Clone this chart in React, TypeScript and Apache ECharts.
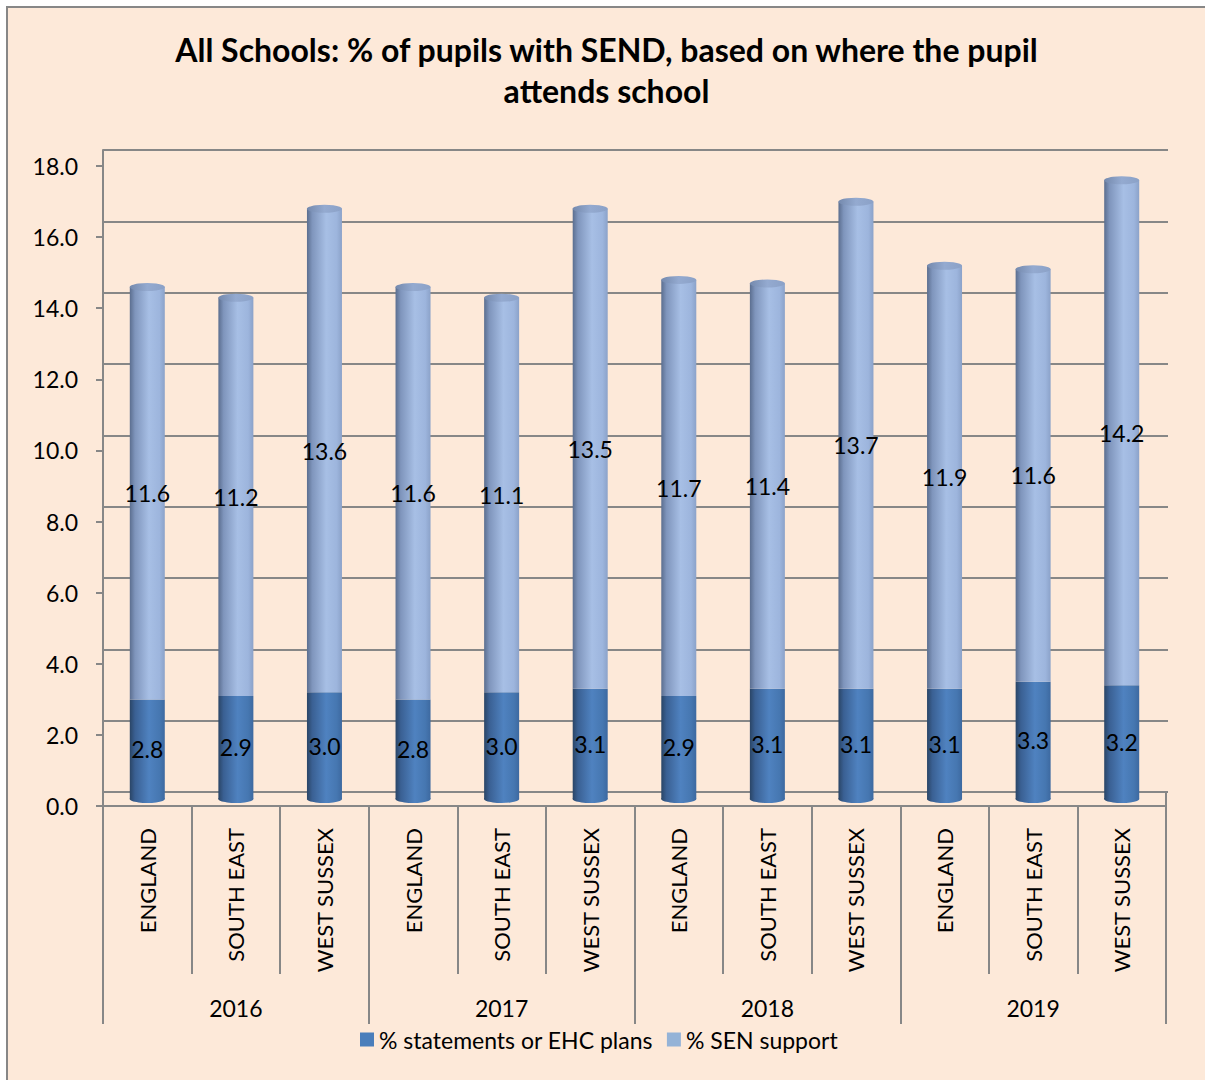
import React, { useEffect, useRef } from "react";
import * as echarts from "echarts";

const years = ["2016", "2017", "2018", "2019"];
const regions = ["ENGLAND", "SOUTH EAST", "WEST SUSSEX"];
const statements = [2.8, 2.9, 3.0, 2.8, 3.0, 3.1, 2.9, 3.1, 3.1, 3.1, 3.3, 3.2];
const senSupport = [11.6, 11.2, 13.6, 11.6, 11.1, 13.5, 11.7, 11.4, 13.7, 11.9, 11.6, 14.2];
const yTicks = { min: 0, max: 18, interval: 2 };
const seriesNames = ["% statements or EHC plans", "% SEN support"];

const PEACH = "#FDE9D9";
const GRAY = "#878787";
const FONT = "Lato";

export default function App() {
  const ref = useRef<HTMLDivElement>(null);
  useEffect(() => {
    const chart = echarts.init(ref.current!, null, { renderer: "svg" });
    const catKeys: string[] = [];
    years.forEach((y) => regions.forEach((r) => catKeys.push(y + "|" + r)));
    const totals = statements.map((v, i) => +(v + senSupport[i]).toFixed(1));

    const hGrad = (stops: [number, string][]) =>
      new echarts.graphic.LinearGradient(0, 0, 1, 0, stops.map(([offset, color]) => ({ offset, color })));
    const darkGrad = hGrad([
      [0, "#2a4566"],
      [0.15, "#3a6093"],
      [0.55, "#4f82c0"],
      [0.85, "#4677b1"],
      [1, "#3d69a0"],
    ]);
    const lightGrad = hGrad([
      [0, "#5b6e8f"],
      [0.15, "#7f95bc"],
      [0.55, "#a7bfe5"],
      [0.85, "#9db5dd"],
      [1, "#8ba2c9"],
    ]);
    const capGrad = hGrad([
      [0, "#7489ad"],
      [0.5, "#94aad0"],
      [1, "#8ba1c7"],
    ]);

    const labelStyle = { show: true, position: "inside", color: "#000", fontSize: 23, fontFamily: FONT, formatter: (p: any) => Number(p.value).toFixed(1) };

    const backGrid = { left: 95, top: 142, width: 1065, height: 642 };
    const frontGrid = { left: 95, top: 158, width: 1063, height: 640 };
    const barGrid = { left: 95, top: 151, width: 1063, height: 640 };

    chart.setOption({
      animation: false,
      backgroundColor: "transparent",
      title: {
        text: "All Schools: % of pupils with SEND, based on where the pupil\nattends school",
        left: "center",
        top: 16,
        textStyle: { fontFamily: FONT, fontWeight: "bold", fontSize: 32, lineHeight: 41, color: "#000" },
      },
      legend: {
        left: 347,
        top: 1015,
        itemWidth: 14,
        itemHeight: 14,
        itemGap: 14,
        icon: "rect",
        textStyle: { fontFamily: FONT, fontSize: 23, color: "#000" },
        data: [
          { name: seriesNames[0], itemStyle: { color: "#4A7EBB" } },
          { name: seriesNames[1], itemStyle: { color: "#95B3D7" } },
        ],
      },
      grid: [backGrid, frontGrid, barGrid],
      xAxis: [
        { gridIndex: 0, type: "category", data: catKeys, show: false },
        {
          gridIndex: 1,
          type: "category",
          data: catKeys,
          position: "bottom",
          axisLine: { show: true, lineStyle: { color: GRAY, width: 2 } },
          axisTick: { show: true, interval: 0, length: 168, lineStyle: { color: GRAY, width: 2 } },
          axisLabel: {
            interval: 0,
            rotate: 90,
            margin: 22,
            fontFamily: FONT,
            fontSize: 22,
            color: "#000",
            formatter: (v: string) => v.split("|")[1],
          },
          splitLine: { show: false },
        },
        {
          gridIndex: 1,
          type: "category",
          data: years,
          position: "bottom",
          axisLine: { show: false },
          axisTick: { show: true, interval: 0, length: 218, lineStyle: { color: GRAY, width: 2 } },
          axisLabel: { interval: 0, margin: 190, fontFamily: FONT, fontSize: 23, color: "#000" },
          splitLine: { show: false },
        },
        { gridIndex: 2, type: "category", data: catKeys, show: false },
      ],
      yAxis: [
        {
          gridIndex: 0,
          type: "value",
          ...yTicks,
          axisLine: { show: true, lineStyle: { color: GRAY, width: 2 } },
          axisTick: { show: false },
          axisLabel: { show: false },
          splitLine: { show: true, lineStyle: { color: GRAY, width: 2 } },
        },
        {
          gridIndex: 1,
          type: "value",
          ...yTicks,
          axisLine: { show: true, lineStyle: { color: GRAY, width: 2 } },
          axisTick: { show: true, length: 7, lineStyle: { color: GRAY, width: 2 } },
          axisLabel: { margin: 25, fontFamily: FONT, fontSize: 23, color: "#000", formatter: (v: number) => v.toFixed(1) },
          splitLine: { show: false },
        },
        { gridIndex: 2, type: "value", ...yTicks, show: false, splitLine: { show: false } },
      ],
      series: [
        {
          name: seriesNames[0],
          type: "bar",
          stack: "s",
          xAxisIndex: 3,
          yAxisIndex: 2,
          barWidth: 35,
          itemStyle: { color: darkGrad },
          label: labelStyle,
          data: statements,
          z: 2,
        },
        {
          name: seriesNames[1],
          type: "bar",
          stack: "s",
          xAxisIndex: 3,
          yAxisIndex: 2,
          barWidth: 35,
          itemStyle: { color: lightGrad },
          label: labelStyle,
          data: senSupport,
          z: 2,
        },
        {
          name: "bottomCap",
          type: "pictorialBar",
          xAxisIndex: 3,
          yAxisIndex: 2,
          symbol: "circle",
          symbolSize: [35, 8],
          symbolPosition: "start",
          symbolOffset: [0, "50%"],
          barWidth: 35,
          itemStyle: { color: darkGrad },
          data: statements,
          z: 1,
          silent: true,
        },
        {
          name: "topCap",
          type: "pictorialBar",
          xAxisIndex: 3,
          yAxisIndex: 2,
          symbol: "circle",
          symbolSize: [35, 8],
          symbolPosition: "end",
          symbolOffset: [0, "-50%"],
          barWidth: 35,
          itemStyle: { color: capGrad },
          data: totals,
          z: 3,
          silent: true,
        },
      ],
      graphic: [
        {
          type: "line",
          shape: { x1: 1158, y1: 784, x2: 1158, y2: 798 },
          style: { stroke: GRAY, lineWidth: 2 },
          silent: true,
        },
      ],
    });
    return () => chart.dispose();
  }, []);

  return (
    <div style={{ position: "absolute", left: 0, top: 0, width: 1205, height: 1080, background: "#fff", overflow: "hidden" }}>
      <div
        style={{
          position: "absolute",
          left: 6,
          top: 6,
          width: 1220,
          height: 1100,
          borderLeft: `2px solid ${GRAY}`,
          borderTop: `2px solid ${GRAY}`,
          background: PEACH,
        }}
      />
      <div ref={ref} style={{ position: "absolute", left: 8, top: 8, width: 1197, height: 1072 }} />
    </div>
  );
}
